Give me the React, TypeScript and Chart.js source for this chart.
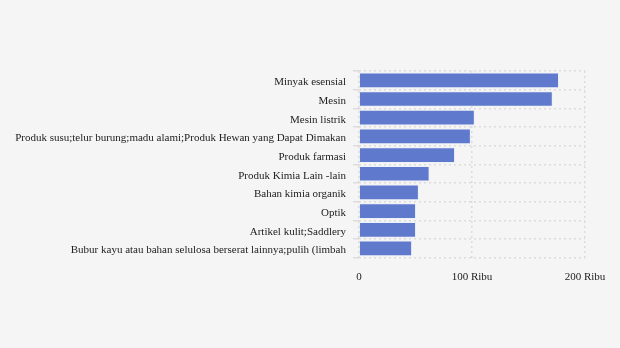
import React, { useEffect, useRef } from "react";
import { Chart, registerables } from "chart.js";

Chart.register(...registerables);

const categories = [
  "Minyak esensial",
  "Mesin",
  "Mesin listrik",
  "Produk susu;telur burung;madu alami;Produk Hewan yang Dapat Dimakan",
  "Produk farmasi",
  "Produk Kimia Lain -lain",
  "Bahan kimia organik",
  "Optik",
  "Artikel kulit;Saddlery",
  "Bubur kayu atau bahan selulosa berserat lainnya;pulih (limbah",
];

const values = [177000, 171500, 102500, 99000, 85000, 62500, 53000, 50500, 50500, 47000];

const tickLabels: Record<number, string> = {
  0: "0",
  100000: "100 Ribu",
  200000: "200 Ribu",
};

export default function App() {
  const ref = useRef<HTMLCanvasElement | null>(null);

  useEffect(() => {
    if (!ref.current) return;
    const font = { family: "'Liberation Serif', 'Times New Roman', serif", size: 11 };
    const chart = new Chart(ref.current, {
      type: "bar",
      data: {
        labels: categories,
        datasets: [
          {
            data: values,
            backgroundColor: "rgb(95,122,204)",
            borderColor: "rgba(235,240,250,0.9)",
            borderWidth: 1,
            categoryPercentage: 1,
            barPercentage: 0.84,
          },
        ],
      },
      options: {
        indexAxis: "y",
        animation: false,
        responsive: true,
        maintainAspectRatio: false,
        layout: { padding: { top: 71, bottom: 51, left: 0, right: 35 } },
        plugins: { legend: { display: false }, tooltip: { enabled: false } },
        scales: {
          x: {
            min: 0,
            max: 200000,
            ticks: {
              stepSize: 100000,
              padding: 13,
              color: "#222",
              font,
              maxRotation: 0,
              callback: (v: any) => tickLabels[Number(v)] ?? String(v),
            },
            grid: {
              color: "#dcdcdc",
              lineWidth: 1.5,
              drawTicks: false,
            },
            border: { display: false, dash: [2, 3] },
          },
          y: {
            afterFit: (scale: any) => {
              scale.width = 359;
            },
            ticks: { color: "#222", font, padding: 7, autoSkip: false, labelOffset: 2 },
            grid: {
              color: "#dcdcdc",
              lineWidth: 1.5,
              tickLength: 6,
              tickColor: "#dcdcdc",
              tickBorderDash: [],
              offset: true,
            },
            border: { display: false, dash: [2, 3] },
          },
        },
      } as any,
    });
    return () => chart.destroy();
  }, []);

  return (
    <div
      style={{
        position: "absolute",
        left: 0,
        top: 0,
        width: 620,
        height: 348,
        background: "#f5f5f5",
      }}
    >
      <canvas ref={ref} />
    </div>
  );
}
